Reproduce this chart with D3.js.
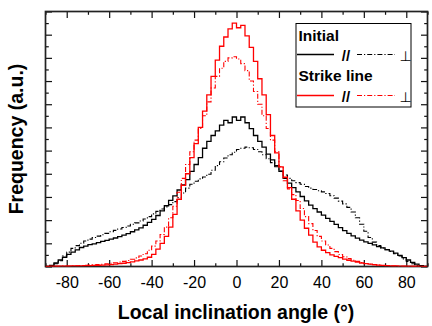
<!DOCTYPE html>
<html>
<head>
<meta charset="utf-8">
<script src="https://cdn.jsdelivr.net/npm/d3@7"></script>
<style>
  body { margin: 0; background: #fff; }
  text { font-family: "Liberation Sans", Arial, sans-serif; }
</style>
</head>
<body>
<svg id="chart" width="432" height="326"></svg>
<script>
// Histograms of local inclination angle, 2° bins from -90° to 90° (arbitrary units)
const binStart = -90;
const binWidth = 2;

// Initial surface, parallel (//) and perpendicular (⊥) profiles
const initialParallel = [
  0, 0.05, 0.15, 0.28, 0.40, 0.52, 0.62, 0.72, 0.82, 0.88,
  0.94, 0.98, 1.03, 1.08, 1.13, 1.18, 1.23, 1.29, 1.35, 1.42,
  1.50, 1.58, 1.67, 1.78, 1.90, 2.03, 2.20, 2.40, 2.62, 2.85,
  3.05, 3.30, 3.52, 3.75, 4.10, 4.40, 4.70, 5.10, 5.40, 5.65,
  5.85, 6.10, 6.30, 6.20, 6.45, 6.30, 6.45, 6.20, 5.95, 5.65,
  5.40, 5.15, 4.85, 4.60, 4.35, 4.10, 3.80, 3.60, 3.40, 3.22,
  3.02, 2.83, 2.65, 2.50, 2.35, 2.22, 2.08, 1.95, 1.82, 1.68,
  1.55, 1.43, 1.32, 1.22, 1.14, 1.06, 1.00, 0.93, 0.86, 0.80,
  0.73, 0.66, 0.58, 0.48, 0.38, 0.28, 0.18, 0.10, 0.04, 0
];
const initialPerpendicular = [
  0, 0.03, 0.12, 0.25, 0.45, 0.62, 0.78, 0.90, 1.00, 1.10,
  1.18, 1.25, 1.31, 1.37, 1.43, 1.50, 1.56, 1.62, 1.68, 1.75,
  1.82, 1.88, 1.96, 2.05, 2.15, 2.27, 2.38, 2.48, 2.57, 2.67,
  2.80, 2.97, 3.17, 3.38, 3.55, 3.68, 3.78, 3.86, 3.98, 4.15,
  4.35, 4.52, 4.68, 4.82, 4.93, 5.05, 5.10, 5.15, 5.12, 5.05,
  4.95, 4.82, 4.65, 4.48, 4.30, 4.12, 3.95, 3.80, 3.70, 3.62,
  3.55, 3.45, 3.38, 3.32, 3.27, 3.22, 3.15, 3.05, 2.95, 2.82,
  2.70, 2.55, 2.35, 2.10, 1.82, 1.52, 1.25, 1.05, 0.90, 0.80,
  0.72, 0.65, 0.55, 0.45, 0.33, 0.22, 0.12, 0.05, 0.02, 0
];

// Strike line, parallel (//) and perpendicular (⊥) profiles
const strikeParallel = [
  0, 0.01, 0.01, 0.02, 0.02, 0.02, 0.03, 0.03, 0.03, 0.04,
  0.04, 0.05, 0.05, 0.06, 0.07, 0.08, 0.10, 0.12, 0.14, 0.17,
  0.20, 0.24, 0.28, 0.33, 0.40, 0.52, 0.75, 1.00, 1.30, 1.70,
  2.25, 2.90, 3.50, 4.00, 4.70, 5.30, 6.00, 6.70, 7.40, 8.20,
  8.90, 9.50, 9.90, 10.25, 10.50, 10.30, 10.40, 9.95, 9.45, 8.85,
  8.10, 7.40, 6.55, 5.65, 4.90, 4.30, 3.85, 3.40, 2.90, 2.40,
  2.00, 1.65, 1.35, 1.05, 0.85, 0.70, 0.60, 0.50, 0.44, 0.38,
  0.32, 0.27, 0.23, 0.19, 0.15, 0.12, 0.10, 0.08, 0.06, 0.05,
  0.04, 0.03, 0.03, 0.02, 0.02, 0.01, 0.01, 0.01, 0, 0
];
const strikePerpendicular = [
  0, 0, 0.01, 0.01, 0.02, 0.02, 0.03, 0.03, 0.04, 0.05,
  0.06, 0.07, 0.08, 0.10, 0.12, 0.14, 0.16, 0.19, 0.22, 0.26,
  0.31, 0.37, 0.45, 0.55, 0.70, 0.88, 1.10, 1.38, 1.70, 2.10,
  2.60, 3.20, 3.80, 4.40, 4.95, 5.45, 5.95, 6.50, 7.10, 7.70,
  8.20, 8.55, 8.85, 9.00, 9.05, 8.95, 8.75, 8.45, 8.00, 7.55,
  7.00, 6.50, 5.95, 5.45, 4.95, 4.30, 3.70, 3.35, 3.10, 2.85,
  2.50, 2.15, 1.85, 1.55, 1.30, 1.10, 0.93, 0.78, 0.64, 0.52,
  0.42, 0.34, 0.27, 0.22, 0.17, 0.13, 0.10, 0.08, 0.06, 0.04,
  0.03, 0.02, 0.02, 0.01, 0.01, 0, 0, 0, 0, 0
];

const xTicks = [-80, -60, -40, -20, 0, 20, 40, 60, 80];
const xMinorTicks = [-90, -70, -50, -30, -10, 10, 30, 50, 70, 90];
const yMajorTicks = d3.range(0, 12, 1);
const yMinorTicks = d3.range(0.5, 11, 1);

const svg = d3.select("#chart");
const box = { left: 45.5, right: 427.5, top: 11.5, bottom: 266.5 };

const x = d3.scaleLinear().domain([-90, 90]).range([box.left, box.right]);
const y = d3.scaleLinear().domain([0, 11]).range([box.bottom, box.top]);

svg.append("defs").append("clipPath").attr("id", "plotClip")
  .append("rect")
  .attr("x", box.left).attr("y", box.top - 2)
  .attr("width", box.right - box.left).attr("height", box.bottom - box.top + 2);

const major = 6.5, minor = 3.3;

function styleAxis(g) {
  g.select(".domain").remove();
  g.selectAll(".tick line").attr("stroke", "#111").attr("stroke-width", 1.2);
}

// bottom axis with labels
const gBottom = svg.append("g").attr("transform", `translate(0,${box.bottom})`)
  .call(d3.axisBottom(x).tickValues(xTicks).tickSize(-major).tickPadding(0).tickFormat(d3.format("d")));
styleAxis(gBottom);
gBottom.selectAll(".tick text")
  .attr("y", 21.5).attr("dy", null)
  .attr("fill", "#000")
  .style("font-size", "16px")
  .style("font-family", "'Liberation Sans', Arial, sans-serif")
  .text(d => d < 0 ? "-" + Math.abs(d) : String(d));
svg.append("g").attr("transform", `translate(0,${box.bottom})`)
  .call(d3.axisBottom(x).tickValues(xMinorTicks).tickSize(-minor).tickFormat(""))
  .call(styleAxis);

// top axis (ticks only)
svg.append("g").attr("transform", `translate(0,${box.top})`)
  .call(d3.axisTop(x).tickValues(xTicks).tickSize(-major).tickFormat(""))
  .call(styleAxis);
svg.append("g").attr("transform", `translate(0,${box.top})`)
  .call(d3.axisTop(x).tickValues(xMinorTicks).tickSize(-minor).tickFormat(""))
  .call(styleAxis);

// left and right axes (ticks only, no values)
svg.append("g").attr("transform", `translate(${box.left},0)`)
  .call(d3.axisLeft(y).tickValues(yMajorTicks).tickSize(-major).tickFormat(""))
  .call(styleAxis);
svg.append("g").attr("transform", `translate(${box.left},0)`)
  .call(d3.axisLeft(y).tickValues(yMinorTicks).tickSize(-minor).tickFormat(""))
  .call(styleAxis);
svg.append("g").attr("transform", `translate(${box.right},0)`)
  .call(d3.axisRight(y).tickValues(yMajorTicks).tickSize(-major).tickFormat(""))
  .call(styleAxis);
svg.append("g").attr("transform", `translate(${box.right},0)`)
  .call(d3.axisRight(y).tickValues(yMinorTicks).tickSize(-minor).tickFormat(""))
  .call(styleAxis);

// frame
svg.append("rect")
  .attr("x", box.left).attr("y", box.top)
  .attr("width", box.right - box.left).attr("height", box.bottom - box.top)
  .attr("fill", "none").attr("stroke", "#222").attr("stroke-width", 1.7);

// histogram step lines
const toSteps = vals => {
  const pts = vals.map((v, i) => [binStart + i * binWidth, v]);
  pts.push([binStart + vals.length * binWidth, vals[vals.length - 1]]);
  return pts;
};
const step = d3.line().x(d => x(d[0])).y(d => y(d[1])).curve(d3.curveStepAfter);
const dashDot = "5,2,1.2,2";

const series = [
  { values: initialPerpendicular, color: "#000", dash: dashDot, width: 1.1 },
  { values: initialParallel, color: "#000", dash: null, width: 1.3 },
  { values: strikePerpendicular, color: "#ff0000", dash: dashDot, width: 1.1 },
  { values: strikeParallel, color: "#ff0000", dash: null, width: 1.3 }
];

const plot = svg.append("g").attr("clip-path", "url(#plotClip)");
plot.selectAll("path.hist").data(series).join("path")
  .attr("class", "hist")
  .attr("d", s => step(toSteps(s.values)))
  .attr("fill", "none")
  .attr("stroke", s => s.color)
  .attr("stroke-width", s => s.width)
  .attr("stroke-dasharray", s => s.dash);

// legend
const lg = svg.append("g");
lg.append("rect")
  .attr("x", 296).attr("y", 23.5).attr("width", 115).attr("height", 83.5)
  .attr("fill", "#fff").attr("stroke", "#000").attr("stroke-width", 1);

const legendRows = [
  { title: "Initial", color: "#000", titleY: 40.5, lineY: 54.5 },
  { title: "Strike line", color: "#ff0000", titleY: 80.5, lineY: 95.5 }
];
legendRows.forEach(r => {
  lg.append("text").attr("x", 298.5).attr("y", r.titleY)
    .style("font-size", "15.5px").style("font-weight", "bold").attr("fill", "#000")
    .text(r.title);
  lg.append("line").attr("x1", 297).attr("x2", 334).attr("y1", r.lineY).attr("y2", r.lineY)
    .attr("stroke", r.color).attr("stroke-width", 1.3);
  lg.append("text").attr("x", 346).attr("y", r.lineY + 6.5).attr("text-anchor", "middle")
    .style("font-size", "15px").style("font-weight", "bold").attr("fill", "#000").text("//");
  lg.append("line").attr("x1", 357).attr("x2", 395).attr("y1", r.lineY).attr("y2", r.lineY)
    .attr("stroke", r.color).attr("stroke-width", 1.1).attr("stroke-dasharray", dashDot);
  lg.append("text").attr("x", 405.5).attr("y", r.lineY + 6.5).attr("text-anchor", "middle")
    .style("font-size", "14px").style("font-family", "'DejaVu Sans', sans-serif")
    .attr("fill", "#000").text("⊥");
});

// axis titles
svg.append("text")
  .attr("x", (box.left + box.right) / 2 - 0.5).attr("y", 319)
  .attr("text-anchor", "middle")
  .style("font-size", "19.5px").style("font-weight", "bold").attr("fill", "#000")
  .text("Local inclination angle (°)");
svg.append("text")
  .attr("transform", `translate(23,${(box.top + box.bottom) / 2}) rotate(-90)`)
  .attr("text-anchor", "middle")
  .style("font-size", "19.5px").style("font-weight", "bold").attr("fill", "#000")
  .text("Frequency (a.u.)");
</script>
</body>
</html>
